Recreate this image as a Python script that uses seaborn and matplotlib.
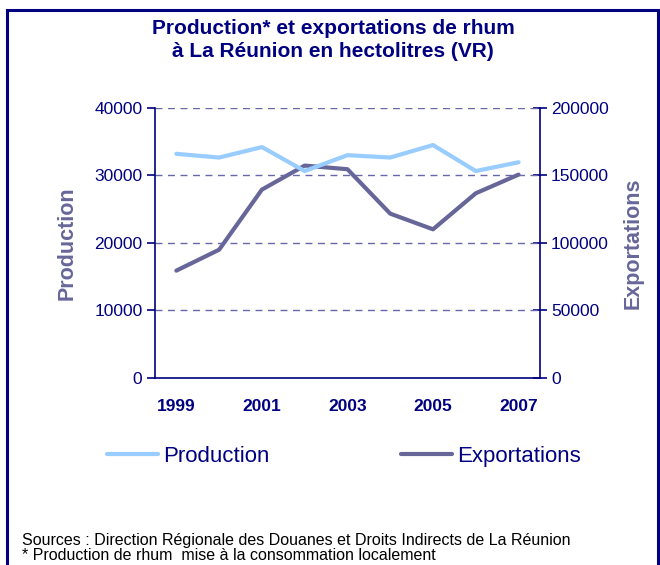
import matplotlib.pyplot as plt
import seaborn as sns
import pandas as pd
from matplotlib.lines import Line2D
from matplotlib.patches import Rectangle

# Values
years = [1999, 2000, 2001, 2002, 2003, 2004, 2005, 2006, 2007]
production = [33200, 32650, 34200, 30650, 33000, 32650, 34500, 30650, 31950]
exportations = [79500, 95000, 139500, 157300, 154600, 121700, 110100, 136800, 150600]
year_labels = ['1999', '2001', '2003', '2005', '2007']

navy = '#000080'
c_prod = '#99CCFF'
c_exp = '#666699'

sns.set_theme(style='white')
plt.rcParams['font.family'] = ['Liberation Sans', 'DejaVu Sans']

df = pd.DataFrame({'year': years, 'Production': production,
                   'Exportations': exportations})

fig = plt.figure(figsize=(6.6, 5.65), dpi=100)
ax = fig.add_axes([0.2348, 0.331, 0.5833, 0.478])
ax2 = ax.twinx()

sns.lineplot(data=df, x='year', y='Production', color=c_prod, lw=3, ax=ax)
sns.lineplot(data=df, x='year', y='Exportations', color=c_exp, lw=3, ax=ax2)
ax.set_zorder(ax2.get_zorder() + 1)
ax.patch.set_visible(False)

ax.set_xlim(1998.5, 2007.5)
ax.set_ylim(0, 40000)
ax2.set_ylim(0, 200000)
ax.set_yticks(range(0, 40001, 10000))
ax2.set_yticks(range(0, 200001, 50000))

ax.set_xticks([int(y) for y in year_labels])
ax.set_xticklabels(year_labels, fontsize=12.5, fontweight='bold', color=navy)
ax.set_xticks([y + 0.5 for y in range(1998, 2008)], minor=True)
ax.tick_params(axis='x', which='major', length=0, pad=15)
ax.tick_params(axis='x', which='minor', direction='inout', length=10,
               width=1.2, color=navy)
ax.tick_params(axis='y', direction='out', length=6, width=1.2, color=navy,
               labelsize=12.5, labelcolor=navy, left=True, pad=3)
ax2.tick_params(axis='y', direction='inout', length=10, width=1.2, color=navy,
                labelsize=12.5, labelcolor=navy, right=True, pad=3)

for a in (ax, ax2):
    a.spines['top'].set_visible(False)
    for s in ('left', 'right', 'bottom'):
        a.spines[s].set_color(navy)
        a.spines[s].set_linewidth(1.2)
ax.spines['right'].set_visible(False)
ax2.spines['left'].set_visible(False)
ax2.spines['bottom'].set_visible(False)

for v in range(10000, 40001, 10000):
    ax.axhline(v, color='#6868a8', lw=1, ls=(0, (5, 4)), zorder=0)

ax.set_xlabel('')
ax.set_ylabel('Production', fontsize=15.5, fontweight='bold', color=c_exp,
              labelpad=12)
ax2.set_ylabel('Exportations', fontsize=15.5, fontweight='bold', color=c_exp,
               labelpad=10)

fig.text(0.505, 0.929, 'Production* et exportations de rhum\nà La Réunion en hectolitres (VR)',
         ha='center', va='center', fontsize=15, fontweight='bold', color=navy,
         linespacing=1.25)

handles = [Line2D([], [], color=c_prod, lw=3), Line2D([], [], color=c_exp, lw=3)]
fig.legend(handles, ['Production', 'Exportations'], loc='center',
           bbox_to_anchor=(0.521, 0.192), ncol=2, frameon=False,
           handlelength=2.3, handletextpad=0.25, columnspacing=5.9,
           prop={'size': 16}, labelcolor=navy)

fig.text(0.033, 0.044, 'Sources : Direction Régionale des Douanes et Droits Indirects de La Réunion',
         fontsize=11.5, color='black', va='center')
fig.text(0.033, 0.016, '* Production de rhum  mise à la consommation localement',
         fontsize=11.5, color='black', va='center')

fig.patches.append(Rectangle((0.0106, -0.02), 0.987, 1.002, transform=fig.transFigure,
                             fill=False, ec=navy, lw=2.2))

fig.savefig('out.png', dpi=100)
